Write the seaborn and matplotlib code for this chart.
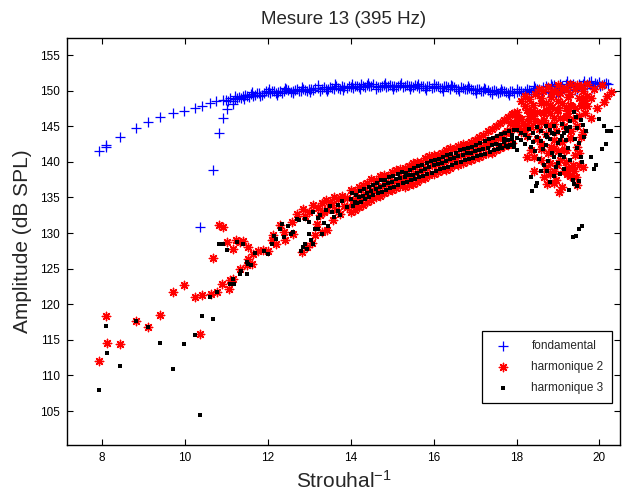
import matplotlib
matplotlib.use("Agg")
import matplotlib.pyplot as plt
import seaborn as sns
import pandas as pd

# ---------------- data ----------------
# fondamental (blue +)
fond_low_x = [7.93, 8.09, 8.10, 8.44, 8.81, 9.12, 9.41, 9.71, 9.98, 10.24, 10.42, 10.61, 10.75, 10.93,
              10.37, 10.67, 10.83, 10.91, 11.01, 11.16]
fond_low_y = [141.5, 142.1, 142.4, 143.5, 144.8, 145.6, 146.3, 146.8, 147.2, 147.5, 147.9, 148.3, 148.5, 148.7,
              130.85, 138.9, 144.0, 146.2, 147.4, 148.1]
fond_band_x = [11.0, 11.1, 11.2, 11.3, 11.4, 11.5, 11.6, 11.7, 11.8, 11.9, 12.0, 12.1, 12.2, 12.3, 12.4,
               12.5, 12.6, 12.7, 12.8, 12.9, 13.0, 13.1, 13.2, 13.3, 13.4, 13.5, 13.6, 13.7, 13.8, 13.9,
               14.0, 14.1, 14.2, 14.3, 14.4, 14.5, 14.6, 14.7, 14.8, 14.9, 15.0, 15.1, 15.2, 15.3, 15.4,
               15.5, 15.6, 15.7, 15.8, 15.9, 16.0, 16.1, 16.2, 16.3, 16.4, 16.5, 16.6, 16.7, 16.8, 16.9,
               17.0, 17.1, 17.2, 17.3, 17.4, 17.5, 17.6, 17.7, 17.8, 17.9, 18.0, 18.1, 18.2, 18.3, 18.4,
               18.5, 18.6, 18.7, 18.8, 18.9, 19.0, 19.1, 19.2, 19.3, 19.4, 19.5, 19.6, 19.7, 19.8, 19.9,
               20.0, 20.1, 20.2,
               11.05, 11.15, 11.25, 11.35, 11.45, 11.55, 11.65, 11.75, 11.85, 11.95, 12.05, 12.15, 12.25,
               12.35, 12.45, 12.55, 12.65, 12.75, 12.85, 12.95, 13.05, 13.15, 13.25, 13.35, 13.45, 13.55,
               13.65, 13.75, 13.85, 13.95, 14.05, 14.15, 14.25, 14.35, 14.45, 14.55, 14.65, 14.75, 14.85,
               14.95, 15.05, 15.15, 15.25, 15.35, 15.45, 15.55, 15.65, 15.75, 15.85, 15.95, 16.05, 16.15,
               16.25, 16.35, 16.45, 16.55, 16.65, 16.75, 16.85, 16.95, 17.05, 17.15, 17.25, 17.35, 17.45,
               17.55, 17.65, 17.75, 17.85, 17.95, 18.05, 18.15, 18.25, 18.35, 18.45, 18.55, 18.65, 18.75,
               18.85, 18.95, 19.05, 19.15, 19.25, 19.35, 19.45, 19.55, 19.65, 19.75, 19.85, 19.95, 20.05,
               20.15,
               11.22, 11.42, 11.62, 11.82, 12.02, 12.22, 12.42, 12.62, 12.82, 13.02, 13.22, 13.42, 13.62,
               13.82, 14.02, 14.22, 14.42, 14.62, 14.82, 15.02, 15.22, 15.42, 15.62, 15.82, 16.02, 16.22,
               16.42, 16.62, 16.82, 17.02, 17.22, 17.42, 17.62, 17.82, 18.02, 18.22, 18.42, 18.62, 18.82,
               19.02, 19.22, 19.42, 19.62, 19.82, 20.02]
fond_band_y = [148.7, 148.9, 148.8, 149.1, 149.2, 149.3, 149.5, 149.4, 149.7, 149.6, 149.8, 149.9, 149.7, 150.0, 149.9,
               150.1, 150.0, 150.2, 149.9, 150.1, 150.3, 150.1, 150.4, 150.2, 150.3, 150.5, 150.3, 150.4, 150.6, 150.4,
               150.5, 150.7, 150.5, 150.6, 150.8, 150.6, 150.7, 150.5, 150.8, 150.6, 150.7, 150.5, 150.8, 150.6, 150.7,
               150.5, 150.7, 150.6, 150.4, 150.7, 150.5, 150.6, 150.4, 150.6, 150.3, 150.5, 150.3, 150.4, 150.2, 150.3,
               150.1, 150.3, 150.0, 150.1, 149.9, 150.0, 149.8, 149.9, 149.7, 150.0, 149.8, 150.0, 149.9, 150.1, 150.0,
               150.3, 150.1, 150.6, 150.2, 150.8, 150.4, 150.6, 150.9, 150.5, 150.7, 150.9, 151.0, 150.8, 151.3, 151.1,
               151.2, 151.0, 150.9,
               148.5, 148.6, 149.0, 148.9, 149.4, 149.1, 149.3, 149.6, 149.4, 149.9, 149.6, 150.0, 149.8,
               149.7, 150.2, 149.8, 150.1, 149.9, 150.3, 149.9, 150.2, 150.4, 150.0, 150.5, 150.2, 150.4,
               150.6, 150.3, 150.5, 150.7, 150.4, 150.6, 150.9, 150.5, 150.7, 150.9, 150.5, 150.7, 150.5,
               150.8, 150.6, 150.7, 150.5, 150.8, 150.6, 150.8, 150.4, 150.7, 150.6, 150.4, 150.7, 150.4,
               150.6, 150.5, 150.6, 150.2, 150.5, 150.3, 150.4, 150.1, 150.2, 149.9, 150.2, 149.8, 150.1,
               149.7, 150.0, 149.8, 149.9, 149.6, 149.9, 149.7, 150.2, 149.8, 150.4, 149.9, 150.5, 149.8,
               150.6, 149.7, 151.0, 150.2, 150.6, 151.0, 150.3, 150.6, 150.4, 151.2, 150.7, 151.0, 150.8,
               151.1,
               149.3, 148.8, 149.8, 149.2, 150.2, 149.4, 150.4, 149.6, 150.5, 149.8, 150.8, 149.9, 150.9,
               150.1, 151.0, 150.2, 151.1, 150.3, 151.1, 150.2, 151.1, 150.3, 151.0, 150.1, 150.9, 150.0,
               150.8, 149.9, 150.6, 149.7, 150.4, 149.5, 150.2, 149.4, 150.3, 149.5, 150.6, 149.6, 151.0,
               149.8, 151.3, 150.1, 151.3, 150.4, 150.6]

# harmonique 2 (red *)
h2_low_x = [7.93, 8.10, 8.12, 8.44, 8.82, 9.12, 9.40, 9.71, 9.98, 10.24, 10.37, 10.42, 10.62, 10.67,
            10.77, 10.83, 10.91, 10.89, 11.01, 11.07, 11.09, 11.17, 11.16, 11.23, 11.33, 11.41, 11.33,
            11.53, 11.53, 11.49, 11.61, 11.65, 11.77, 11.89, 12.01, 12.10, 12.13, 12.30, 12.20, 12.38,
            12.42, 12.58, 12.62, 12.70, 12.86, 12.82, 12.94, 13.06, 13.14, 13.18, 13.30, 13.26, 13.42,
            13.54, 13.42, 13.58, 13.74, 13.90, 14.06,
            13.1, 13.2, 13.3, 13.4, 13.5, 13.6, 13.7, 13.8, 13.9, 13.0, 12.9, 13.35, 13.65, 13.85]
h2_low_y = [112.05, 118.4, 114.6, 114.4, 117.6, 116.8, 118.5, 121.7, 122.7, 121.0, 115.8, 121.3, 121.4, 126.5,
            121.7, 131.1, 130.9, 122.8, 128.7, 122.1, 123.4, 123.6, 127.7, 129.0, 128.7, 128.9, 124.9,
            128.0, 126.4, 125.5, 125.7, 127.1, 127.5, 127.6, 127.5, 129.0, 129.7, 131.1, 128.5, 130.1,
            129.0, 131.6, 129.9, 132.7, 133.4, 127.3, 128.0, 128.6, 129.7, 131.3, 130.1, 132.5, 133.2,
            133.9, 130.4, 131.8, 132.7, 133.6, 134.1,
            133.9, 133.5, 134.2, 134.6, 134.3, 135.0, 134.8, 135.2, 134.9, 133.0, 132.4, 132.9, 133.2, 133.8]
h2_band_x = [14.0, 14.1, 14.2, 14.3, 14.4, 14.5, 14.6, 14.7, 14.8, 14.9, 15.0, 15.1, 15.2, 15.3, 15.4,
             15.5, 15.6, 15.7, 15.8, 15.9, 16.0, 16.1, 16.2, 16.3, 16.4, 16.5, 16.6, 16.7, 16.8, 16.9,
             17.0, 17.1, 17.2, 17.3, 17.4, 17.5, 17.6, 17.7, 17.8, 17.9,
             14.05, 14.15, 14.25, 14.35, 14.45, 14.55, 14.65, 14.75, 14.85, 14.95, 15.05, 15.15, 15.25,
             15.35, 15.45, 15.55, 15.65, 15.75, 15.85, 15.95, 16.05, 16.15, 16.25, 16.35, 16.45, 16.55,
             16.65, 16.75, 16.85, 16.95, 17.05, 17.15, 17.25, 17.35, 17.45, 17.55, 17.65, 17.75, 17.85,
             17.95,
             14.0, 14.1, 14.2, 14.3, 14.4, 14.5, 14.6, 14.7, 14.8, 14.9, 15.0, 15.1, 15.2, 15.3, 15.4,
             15.5, 15.6, 15.7, 15.8, 15.9, 16.0, 16.1, 16.2, 16.3, 16.4, 16.5, 16.6, 16.7, 16.8, 16.9,
             17.0, 17.1, 17.2, 17.3, 17.4, 17.5, 17.6, 17.7, 17.8, 17.9]
h2_band_y = [136.0, 135.9, 136.4, 136.8, 137.0, 137.6, 137.4, 138.0, 138.1, 138.0, 138.6, 138.9, 139.0, 139.1, 139.4,
             139.8, 140.0, 140.0, 140.5, 140.8, 141.0, 141.0, 141.3, 141.7, 141.9, 141.8, 142.2, 142.5, 142.4, 142.8,
             143.0, 143.5, 143.8, 144.3, 144.6, 145.0, 145.5, 145.9, 146.3, 146.7,
             134.6, 134.9, 135.1, 135.5, 135.7, 136.1, 136.3, 136.6, 136.9, 137.0, 137.3, 137.5, 137.8,
             137.9, 138.1, 138.4, 138.7, 138.8, 139.1, 139.5, 139.7, 139.8, 140.0, 140.4, 140.6, 140.6,
             140.9, 141.2, 141.3, 141.5, 141.8, 142.1, 142.4, 142.7, 143.0, 143.4, 143.7, 144.0, 144.4,
             144.7,
             132.9, 133.3, 133.6, 133.9, 134.4, 134.6, 135.0, 135.2, 135.6, 135.9, 136.0, 136.3, 136.6, 136.5, 136.8,
             136.9, 137.2, 137.6, 137.7, 138.1, 138.3, 138.6, 138.8, 138.9, 139.2, 139.5, 139.6, 139.9, 140.1, 140.2,
             140.5, 140.7, 140.9, 141.2, 141.3, 141.7, 141.9, 142.2, 142.4, 142.7]
h2_top_x = [17.61, 17.85, 18.00, 18.26, 18.40, 18.58, 18.82, 19.06, 19.23, 19.47, 19.31, 19.63, 19.79,
            19.95, 20.11, 19.87, 20.07, 20.27, 20.17,
            18.26, 18.34, 18.42, 18.66, 18.74, 18.90, 19.02, 18.98, 19.14, 19.22, 19.39, 19.43, 19.51,
            19.47, 19.55, 19.14, 18.90, 18.42, 18.82, 18.58, 19.31, 18.90, 19.22, 18.66, 18.98, 18.18,
            17.93, 17.77,
            18.0, 18.1, 18.2, 18.3, 18.4, 18.5, 18.6, 18.7, 18.8, 18.9, 19.0, 19.1, 19.2, 19.3, 19.4,
            19.5, 19.6, 19.7, 18.05, 18.15, 18.35, 18.45, 18.55, 18.65, 18.75, 18.85, 18.95, 19.05,
            19.15, 19.25, 19.35, 19.45, 19.55, 19.65, 18.25, 18.5, 18.7, 18.9, 19.1, 19.3, 19.6, 19.4,
            19.2, 18.8, 18.6, 19.0, 19.35, 18.95, 19.1, 19.45, 19.3, 18.8,
            18.1, 18.2, 18.3, 18.45, 18.55, 18.65, 18.75, 18.85, 19.0, 19.2, 19.3, 19.55, 19.7, 18.1,
            18.2, 18.3, 18.4, 18.6, 18.7, 18.8, 18.9, 19.0, 19.1, 19.2, 19.3, 19.4, 19.5, 19.6, 19.7,
            19.8, 18.0, 17.95, 18.05, 18.35, 18.6, 18.75, 18.9, 19.05, 19.2, 18.7, 19.25, 19.5, 19.6]
h2_top_y = [143.5, 145.4, 146.3, 147.3, 146.8, 148.2, 149.1, 149.6, 149.1, 150.8, 147.8, 148.2, 146.1,
            147.5, 148.4, 150.3, 150.8, 149.8, 149.2,
            140.7, 141.6, 138.7, 137.8, 136.9, 137.0, 135.7, 139.6, 141.6, 138.3, 138.7, 137.8, 139.6,
            142.1, 143.5, 138.7, 138.7, 140.7, 142.1, 142.5, 144.4, 145.3, 146.3, 145.9, 147.3, 144.4,
            145.4, 144.4,
            147.0, 146.0, 147.8, 146.5, 148.0, 147.0, 149.0, 148.2, 146.8, 149.8, 148.5, 150.2, 147.5, 149.5, 150.3,
            149.0, 150.0, 149.3, 144.8, 145.5, 144.9, 145.8, 144.6, 146.9, 145.2, 147.7, 144.3, 146.2,
            145.1, 147.2, 146.0, 145.0, 147.9, 146.8, 143.6, 143.2, 143.9, 143.0, 142.8, 143.3, 144.2, 141.0,
            140.0, 139.8, 140.3, 141.5, 139.5, 137.5, 136.5, 136.7, 138.0, 138.3,
            148.5, 149.2, 148.8, 149.5, 150.2, 149.9, 150.5, 150.0, 150.8, 150.4, 151.0, 150.6, 150.9, 144.2,
            145.0, 145.7, 146.4, 145.6, 147.3, 148.0, 146.2, 147.3, 148.3, 146.5, 148.0, 147.6, 146.4, 148.8, 147.8,
            148.9, 145.5, 146.8, 146.2, 147.2, 141.8, 141.2, 142.0, 140.3, 141.7, 139.0, 139.2, 141.3, 139.3]

# harmonique 3 (black .)
h3_low_x = [7.93, 8.10, 8.12, 8.44, 8.82, 9.12, 9.41, 9.71, 9.98, 10.24, 10.37, 10.42, 10.67, 10.60,
            10.77, 10.83, 10.91, 11.01, 11.09, 11.19, 11.33, 11.50, 11.53, 11.17,
            11.7, 11.9, 12.0, 12.1, 12.2, 12.3, 12.4, 12.5, 12.6, 12.7, 12.8, 12.95, 13.1, 13.15, 11.4,
            11.25, 11.5, 11.6, 11.35, 12.15, 12.35, 12.55, 12.75, 12.9, 13.0, 13.2, 13.35, 13.55, 13.7]
h3_low_y = [108.0, 117.0, 113.2, 111.3, 117.6, 116.8, 114.6, 110.9, 114.4, 115.7, 104.5, 118.3, 117.9, 121.0,
            121.7, 128.5, 128.4, 127.6, 122.8, 122.8, 124.3, 124.3, 125.7, 123.6,
            127.2, 127.5, 127.0, 128.5, 129.2, 130.5, 129.5, 131.0, 130.2, 132.0, 127.5, 127.8, 128.5, 130.6, 128.5,
            128.8, 126.0, 125.5, 124.6, 129.6, 131.2, 129.8, 131.8, 128.5, 129.9, 132.1, 131.4, 132.9, 133.1]
h3_band_x = [12.85, 12.9, 13.0, 13.05, 13.1, 13.2, 13.25, 13.3, 13.4, 13.45, 13.5, 13.6, 13.7, 13.75,
             13.8, 13.9, 14.0, 14.1, 14.2, 14.3, 14.4, 14.5, 14.6, 14.7, 14.8, 14.9, 15.0, 15.1, 15.2,
             15.3, 15.4, 15.5, 15.6, 15.7, 15.8, 15.9, 16.0, 16.1, 16.2, 16.3, 16.4, 16.5, 16.6, 16.7,
             16.8, 16.9, 17.0, 17.1, 17.2, 17.3, 17.4, 17.5, 17.6, 17.7, 17.8, 17.9, 18.0, 18.1, 18.2,
             18.3, 18.4, 18.5, 18.6, 18.7, 18.8, 18.9, 19.0, 19.1, 19.2,
             14.05, 14.15, 14.25, 14.35, 14.45, 14.55, 14.65, 14.75, 14.85, 14.95, 15.05, 15.15, 15.25,
             15.35, 15.45, 15.55, 15.65, 15.75, 15.85, 15.95, 16.05, 16.15, 16.25, 16.35, 16.45, 16.55,
             16.65, 16.75, 16.85, 16.95, 17.05, 17.15, 17.25, 17.35, 17.45, 17.55, 17.65, 17.75, 17.85,
             17.95,
             14.03, 14.13, 14.23, 14.33, 14.43, 14.53, 14.63, 14.73, 14.83, 14.93, 15.03, 15.13, 15.23,
             15.33, 15.43, 15.53, 15.63, 15.73, 15.83, 15.93, 16.03, 16.13, 16.23, 16.33, 16.43, 16.53,
             16.63, 16.73, 16.83, 16.93, 17.03, 17.13, 17.23, 17.33, 17.43, 17.53, 17.63, 17.73, 17.83,
             17.93]
h3_band_y = [128.0, 132.0, 131.5, 129.0, 133.0, 130.5, 132.6, 129.8, 133.2, 131.0, 133.8, 132.2, 134.0, 132.6,
             134.5, 133.6, 134.8, 134.3, 135.0, 135.2, 135.6, 135.9, 136.2, 136.5, 136.8, 137.0, 137.2, 137.6, 137.7,
             137.9, 138.1, 138.2, 138.5, 138.7, 139.0, 139.3, 139.5, 139.7, 139.9, 140.1, 140.4, 140.5, 140.8, 141.0,
             141.2, 141.3, 141.5, 141.7, 141.8, 142.0, 142.3, 142.5, 142.4, 142.8, 143.0, 143.2, 143.4, 143.0, 143.8,
             143.3, 144.0, 143.5, 144.3, 143.7, 144.5, 143.9, 144.2, 143.6, 144.7,
             133.8, 134.2, 134.4, 134.8, 135.0, 135.3, 135.6, 135.8, 136.1, 136.3, 136.5, 136.8, 137.0,
             137.1, 137.4, 137.6, 137.8, 138.0, 138.3, 138.5, 138.7, 139.0, 139.1, 139.3, 139.6, 139.8,
             140.0, 140.2, 140.4, 140.6, 140.8, 141.0, 141.1, 141.4, 141.6, 141.8, 142.0, 142.2, 142.4,
             142.6,
             135.6, 135.4, 135.9, 136.2, 136.5, 136.7, 137.0, 137.4, 137.5, 137.8, 138.0, 138.3, 138.6,
             138.5, 138.9, 139.1, 139.4, 139.5, 139.8, 140.1, 140.3, 140.4, 140.7, 141.0, 141.1, 141.3,
             141.6, 141.8, 142.0, 142.1, 142.4, 142.7, 142.9, 143.2, 143.3, 143.6, 143.9, 144.1, 144.3,
             144.5]
h3_top_x = [18.38, 18.46, 18.50, 18.36, 18.58, 19.35, 19.43, 19.51, 19.59, 19.27, 19.39, 19.51, 19.47,
            19.55, 19.59, 19.63, 19.67, 19.79, 19.87, 19.91, 20.07, 20.15, 20.19, 20.27, 20.11, 19.99,
            19.39, 19.43, 19.55, 18.74, 18.34, 18.02, 17.93, 19.06, 19.22, 19.14, 18.90, 19.06, 18.74,
            18.66,
            17.9, 18.0, 18.1, 18.2, 18.3, 18.4, 18.5, 18.6, 18.7, 18.8, 18.9, 19.0, 19.1, 19.2, 19.3,
            18.45, 18.55, 18.65, 18.75, 18.85, 18.95, 19.05, 19.15, 19.25, 19.3, 19.35, 18.8, 18.9,
            19.0, 18.7, 18.85, 19.15, 19.4, 19.45, 19.5, 19.3, 19.45, 19.6, 17.7, 17.8]
h3_top_y = [135.9, 136.6, 137.0, 137.8, 138.7, 129.4, 129.6, 130.6, 131.0, 136.1, 136.9, 137.3, 136.6,
            140.7, 140.0, 143.5, 144.4, 140.7, 139.0, 139.6, 141.8, 142.5, 144.4, 144.4, 145.0, 146.0,
            147.0, 146.3, 145.9, 143.5, 142.1, 141.6, 142.1, 143.1, 144.4, 140.7, 140.7, 138.3, 138.7,
            139.6,
            143.8, 144.5, 144.1, 142.5, 144.6, 142.8, 144.9, 142.9, 145.1, 143.2, 145.0, 142.6, 145.3, 143.0, 144.9,
            141.5, 140.4, 141.8, 140.1, 141.3, 139.3, 141.0, 139.0, 141.9, 140.2, 137.4, 137.2, 138.0,
            139.9, 142.3, 144.0, 144.0, 143.2, 141.9, 142.6, 145.8, 144.8, 145.2, 143.2, 142.1]

x_ticks = [8, 10, 12, 14, 16, 18, 20]
y_ticks = [105, 110, 115, 120, 125, 130, 135, 140, 145, 150, 155]
title_text = "Mesure 13 (395 Hz)"
x_label = "Strouhal$^{-1}$"
y_label = "Amplitude (dB SPL)"
labels = ["fondamental", "harmonique 2", "harmonique 3"]

# ---------------- plot ----------------
sns.set_style("ticks")
plt.rcParams['font.family'] = ['Liberation Sans', 'DejaVu Sans']
plt.rcParams['mathtext.fontset'] = 'custom'
plt.rcParams['mathtext.rm'] = 'Liberation Sans'
plt.rcParams['mathtext.it'] = 'Liberation Sans:italic'

fig = plt.figure(figsize=(6.29, 4.93), dpi=100)
ax = fig.add_axes([0.106, 0.097, 0.880, 0.826])

df1 = pd.DataFrame({"x": fond_low_x + fond_band_x, "y": fond_low_y + fond_band_y})
df2 = pd.DataFrame({"x": h2_low_x + h2_band_x + h2_top_x, "y": h2_low_y + h2_band_y + h2_top_y})
df3 = pd.DataFrame({"x": h3_low_x + h3_band_x + h3_top_x, "y": h3_low_y + h3_band_y + h3_top_y})

sns.scatterplot(data=df1, x="x", y="y", marker="+", color="#0000ff", s=42,
                linewidth=0.9, ax=ax, label=labels[0], zorder=3)
sns.scatterplot(data=df2, x="x", y="y", marker=(8, 2, 0), color="#ff0000", s=36,
                linewidth=1.0, ax=ax, label=labels[1], zorder=4)
sns.scatterplot(data=df3, x="x", y="y", marker="s", color="black", s=6,
                linewidth=0, ax=ax, label=labels[2], zorder=5)

ax.set_xlim(7.15, 20.5)
ax.set_ylim(100.2, 157.4)
ax.set_xticks(x_ticks)
ax.set_yticks(y_ticks)
ax.tick_params(direction="in", top=True, right=True, length=4, width=0.8,
               labelsize=8.5, colors="black", pad=5)
for sp in ax.spines.values():
    sp.set_linewidth(1.0)
    sp.set_color("black")

ax.set_title(title_text, fontsize=13.5, pad=10)
ax.set_xlabel(x_label, fontsize=15, labelpad=4)
ax.set_ylabel(y_label, fontsize=15, labelpad=6)

leg = ax.legend(loc="lower right", bbox_to_anchor=(0.986, 0.104), fontsize=8.5,
                frameon=True, fancybox=False, edgecolor="black", framealpha=1,
                borderpad=0.75, labelspacing=0.75, handletextpad=1.4, borderaxespad=0)
leg.get_frame().set_linewidth(0.9)

fig.savefig("out.png", dpi=100)
